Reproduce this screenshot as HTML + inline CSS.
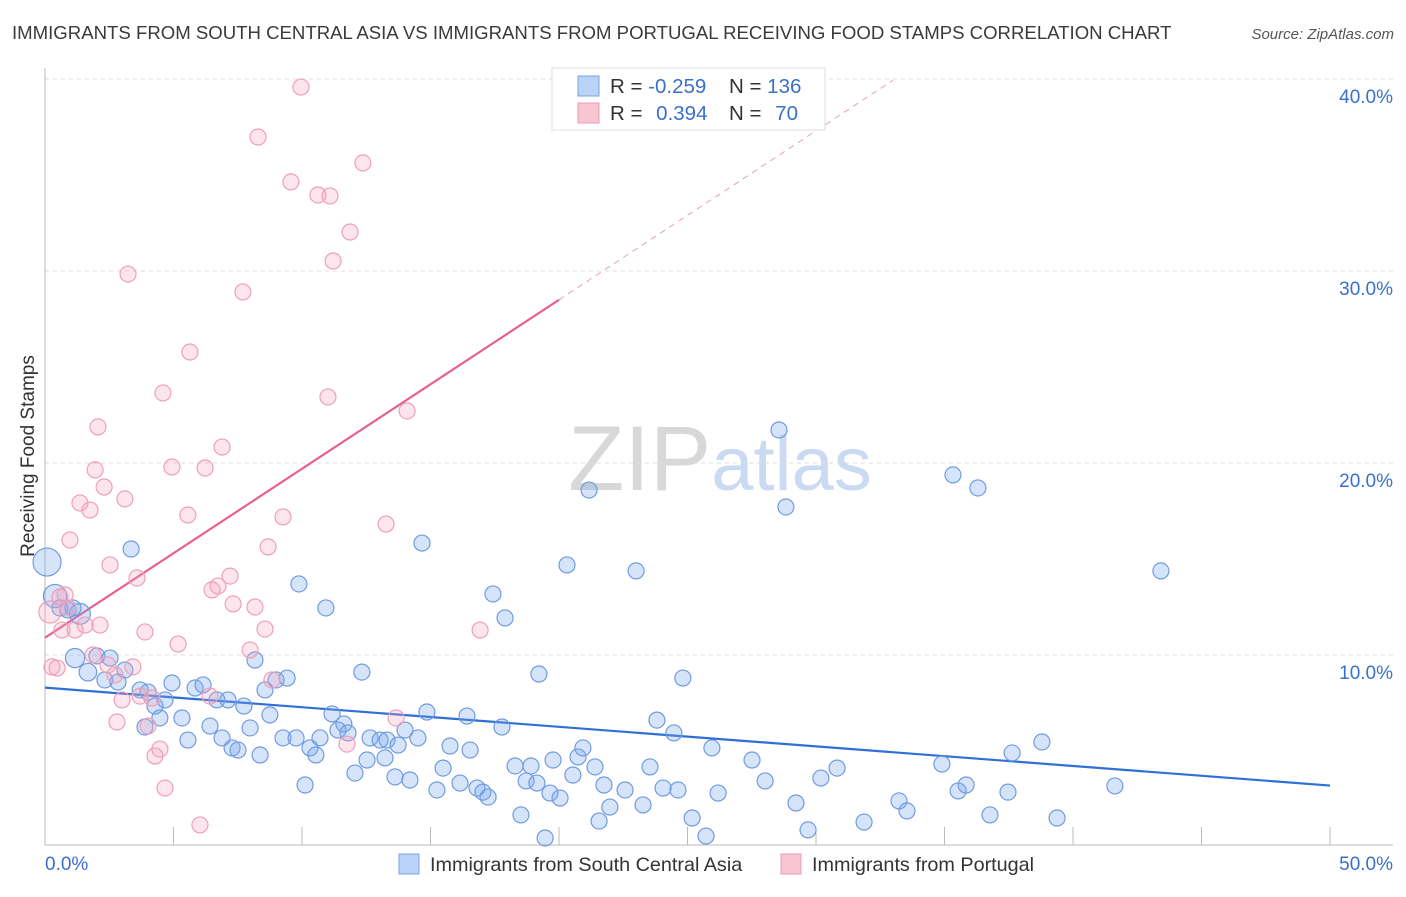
<!DOCTYPE html>
<html><head><meta charset="utf-8"><style>
body{margin:0;background:#fff;font-family:"Liberation Sans",sans-serif;}
svg text{font-family:"Liberation Sans",sans-serif;}
</style></head><body>
<svg id="chart" width="1406" height="892" xmlns="http://www.w3.org/2000/svg">
<text x="12" y="39" font-size="18.6" fill="#3a3a3a">IMMIGRANTS FROM SOUTH CENTRAL ASIA VS IMMIGRANTS FROM PORTUGAL RECEIVING FOOD STAMPS CORRELATION CHART</text>
<text x="1394" y="39" font-size="15" fill="#555" font-style="italic" text-anchor="end">Source: ZipAtlas.com</text>
<text x="720" y="490" font-size="92" text-anchor="middle" fill="#ddd" font-family="Liberation Serif"><tspan fill="#d8d8d8">ZIP</tspan><tspan fill="#c9daf2" font-family="Liberation Sans" font-size="76">atlas</tspan></text>
<g id="grid"></g>
<g id="axes"></g>
<g id="lines"></g>
<g id="blue"></g>
<g id="pink"></g>
<text transform="translate(34,456) rotate(-90)" font-size="19" fill="#333" text-anchor="middle">Receiving Food Stamps</text>
<g>
<rect x="552" y="68" width="273" height="62" fill="#fff" stroke="#ddd"/>
<rect x="578" y="76" width="21" height="20" fill="#b8d3f5" stroke="#7aa6e6"/>
<rect x="578" y="103" width="21" height="20" fill="#f8c5d3" stroke="#ef9ab2"/>
<text x="610" y="93" font-size="20.5" fill="#333">R = <tspan fill="#3a70cc">-0.259</tspan></text>
<text x="729" y="93" font-size="20.5" fill="#333">N = <tspan fill="#3a70cc">136</tspan></text>
<text x="610" y="120" font-size="20.5" fill="#333">R = <tspan fill="#3a70cc" dx="8">0.394</tspan></text>
<text x="729" y="120" font-size="20.5" fill="#333">N = <tspan fill="#3a70cc" dx="8">70</tspan></text>
</g>
<g>
<rect x="399" y="854" width="20" height="20" fill="#b8d3f5" stroke="#7aa6e6"/>
<text x="430" y="871" font-size="19.8" fill="#333">Immigrants from South Central Asia</text>
<rect x="781" y="854" width="20" height="20" fill="#f8c5d3" stroke="#ef9ab2"/>
<text x="812" y="871" font-size="19.8" fill="#333">Immigrants from Portugal</text>
</g>
</svg>
<script>
const yTicks=[10,20,30,40];
const xTickLabels=["0.0%","50.0%"];
const blueX=[0.08,0.39,0.58,0.89,1.36,1.09,1.17,1.67,2.02,2.53,2.33,2.84,3.11,3.35,3.70,4.01,3.89,4.28,4.47,4.67,4.94,5.33,5.56,5.84,6.15,6.42,6.69,6.89,7.12,7.28,7.51,7.74,7.98,8.17,8.37,8.56,8.75,8.99,9.26,9.42,9.77,9.88,10.12,10.31,10.54,10.70,10.93,11.17,11.40,11.63,11.79,12.06,12.33,12.53,12.65,13.04,13.23,13.31,13.62,13.74,14.01,14.20,14.51,14.67,14.86,15.25,15.49,15.76,16.15,16.42,16.54,16.81,17.04,17.24,17.43,17.78,17.90,18.29,18.52,18.72,18.91,19.14,19.22,19.46,19.65,19.77,20.04,20.31,20.54,20.74,20.93,21.17,21.40,21.56,21.75,21.98,22.57,23.00,23.27,23.54,23.81,24.05,24.47,24.63,24.82,25.18,25.72,25.95,26.19,27.51,28.02,28.56,28.83,29.22,29.69,30.19,30.82,31.87,33.23,33.54,34.90,35.33,35.53,35.84,36.30,36.77,37.47,37.63,38.79,39.38,41.63,43.42];
const blueY=[14.84,13.07,12.45,12.34,12.14,12.45,9.84,9.11,9.95,9.84,8.70,8.59,9.22,15.52,8.18,8.07,6.25,7.34,6.72,7.66,8.54,6.72,5.57,8.28,8.44,6.30,7.66,5.68,7.66,5.16,5.05,7.34,6.20,9.74,4.79,8.18,6.88,8.70,5.68,8.80,5.68,13.70,3.23,5.16,4.79,5.68,12.45,6.93,6.09,6.41,5.94,3.85,9.11,4.53,5.68,5.57,4.64,5.57,3.65,5.31,6.09,3.49,5.68,15.83,7.03,2.97,4.11,5.26,3.33,6.82,5.05,3.07,2.86,2.60,13.18,6.25,11.93,4.22,1.67,3.44,4.22,3.33,9.01,0.47,2.81,4.53,2.55,14.69,3.75,4.69,5.16,18.59,4.17,1.35,3.23,2.08,2.97,14.38,2.19,4.17,6.61,3.07,5.94,2.97,8.80,1.51,0.57,5.16,2.81,4.53,3.44,21.72,17.71,2.29,0.89,3.59,4.11,1.30,2.40,1.88,4.32,19.38,2.92,3.23,18.70,1.67,2.86,4.90,5.47,1.51,3.18,14.38];
const blueSize=[1.75,1.45,1,1,1.3,1,1.2,1.1,1,1,1,1,1,1,1,1,1,1,1,1,1,1,1,1,1,1,1,1,1,1,1,1,1,1,1,1,1,1,1,1,1,1,1,1,1,1,1,1,1,1,1,1,1,1,1,1,1,1,1,1,1,1,1,1,1,1,1,1,1,1,1,1,1,1,1,1,1,1,1,1,1,1,1,1,1,1,1,1,1,1,1,1,1,1,1,1,1,1,1,1,1,1,1,1,1,1,1,1,1,1,1,1,1,1,1,1,1,1,1,1,1,1,1,1,1,1,1,1,1,1,1,1,1,1,1,1];
const pinkX=[0.19,0.27,0.47,0.58,0.78,0.89,0.66,0.97,1.17,1.36,1.56,1.75,1.87,1.95,2.06,2.14,2.30,2.45,2.53,2.72,2.80,3.00,3.11,3.23,3.42,3.58,3.70,3.89,4.01,4.16,4.28,4.47,4.59,4.67,4.94,5.18,5.56,5.64,6.03,6.23,6.42,6.50,6.73,6.89,7.20,7.32,7.70,7.98,8.17,8.29,8.56,8.68,8.83,9.26,9.57,9.96,10.62,11.09,11.01,11.21,11.75,11.87,12.37,13.27,13.66,14.09,16.93];
const pinkY=[12.24,9.38,9.32,13.02,13.13,12.45,11.30,15.99,11.30,17.92,11.56,17.55,10.00,19.64,21.88,11.56,18.75,9.48,14.69,8.96,6.51,7.66,18.13,29.84,9.38,14.01,7.86,11.20,6.30,7.76,4.74,5.10,23.65,3.07,19.79,10.57,17.29,25.78,1.15,19.74,7.86,13.39,13.59,20.83,14.11,12.66,28.91,10.26,12.50,36.98,11.35,15.63,8.70,17.19,34.64,39.58,33.96,33.91,23.44,30.52,5.36,32.03,35.63,16.82,6.72,22.71,11.30];
const blueTrend=[8.3,3.2];   // y at x=0 and x=50
const pinkTrend=[10.9,28.5]; // y at x=0 and x=20 (solid)
const pinkTrendEnd=33.0;     // dashed extends to x
const NS="http://www.w3.org/2000/svg";
const X0=45,X1=1330,Y0=847,PXY=19.2;
const sx=v=>X0+(X1-X0)*v/50;
const sy=v=>Y0-v*PXY;
function mk(tag,attrs,parent){const e=document.createElementNS(NS,tag);for(const k in attrs)e.setAttribute(k,attrs[k]);document.getElementById(parent).appendChild(e);return e;}
yTicks.forEach(t=>{
 const l=mk('line',{x1:X0,x2:1393,y1:sy(t),y2:sy(t),stroke:'#ddd','stroke-dasharray':'4,4'},'grid');
 
 
 const tx=mk('text',{x:1393,y:sy(t)+24,'font-size':19,fill:'#3a70cc','text-anchor':'end'},'grid');
 tx.textContent=t.toFixed(1)+'%';
 
 
});
let ax=mk('line',{x1:X0,x2:X0,y1:68,y2:845,stroke:'#bbb'},'axes');


ax=mk('line',{x1:X0,x2:1393,y1:845,y2:845,stroke:'#bbb'},'axes');


for(let i=1;i<=10;i++){const t=mk('line',{x1:sx(i*5),x2:sx(i*5),y1:827,y2:845,stroke:'#bbb'},'axes');
 
 }
[[0,'start',X0],[1,'end',1393]].forEach(([i,a,x])=>{const t=mk('text',{x:x,y:870,'font-size':19,fill:'#3a70cc','text-anchor':a},'axes');t.textContent=xTickLabels[i];
 
 });
let ln=mk('line',{x1:sx(0),y1:sy(blueTrend[0]),x2:sx(50),y2:sy(blueTrend[1]),stroke:'#2f6fd6','stroke-width':2.2},'lines');


const slope=(pinkTrend[1]-pinkTrend[0])/20;
ln=mk('line',{x1:sx(0),y1:sy(pinkTrend[0]),x2:sx(20),y2:sy(pinkTrend[1]),stroke:'#e8608e','stroke-width':2.2},'lines');


ln=mk('line',{x1:sx(20),y1:sy(pinkTrend[1]),x2:sx(pinkTrendEnd),y2:sy(pinkTrend[0]+slope*pinkTrendEnd),stroke:'#e8a0b8','stroke-width':1,'stroke-dasharray':'6,5'},'lines');


blueX.forEach((x,i)=>{const c=mk('circle',{cx:sx(x),cy:sy(blueY[i]),r:8*(blueSize[i]||1),fill:'rgba(120,165,235,0.3)',stroke:'#6f9be0','stroke-width':1.2},'blue');
 
 });
pinkX.forEach((x,i)=>{const c=mk('circle',{cx:sx(x),cy:sy(pinkY[i]),r:i==0?11:8,fill:'rgba(245,160,190,0.28)',stroke:'#eea0b8','stroke-width':1.2},'pink');
 
 });
</script>
</body></html>
